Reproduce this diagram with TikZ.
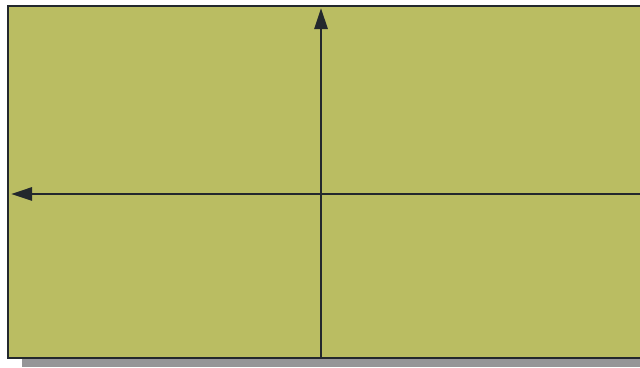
\documentclass[tikz,border=0pt]{standalone}
\usepackage{tikz}
\usetikzlibrary{arrows.meta}

\definecolor{panel}{RGB}{186,189,98}
\definecolor{shadow}{RGB}{150,150,152}
\definecolor{ink}{RGB}{35,40,45}

\begin{document}
\begin{tikzpicture}[x=.01cm,y=.01cm,axis/.style={line width=.8pt,ink,-{Triangle[length=.21cm,width=.13cm]}}]
    \useasboundingbox (0,0) rectangle (640,367);
    \fill[shadow] (22,0) rectangle (640,9);
    \fill[panel] (8,9) rectangle (640,361);
    \draw[line width=.8pt,ink] (640,361)--(8,361)--(8,9)--(640,9);
    \coordinate (bottom) at (321,9);
    \coordinate (top) at (321,359);
    \coordinate (right) at (640,173);
    \coordinate (left) at (11,173);
    \draw[axis] (bottom)--(top);
    \draw[axis] (right)--(left);
  \end{tikzpicture}
\end{document}
